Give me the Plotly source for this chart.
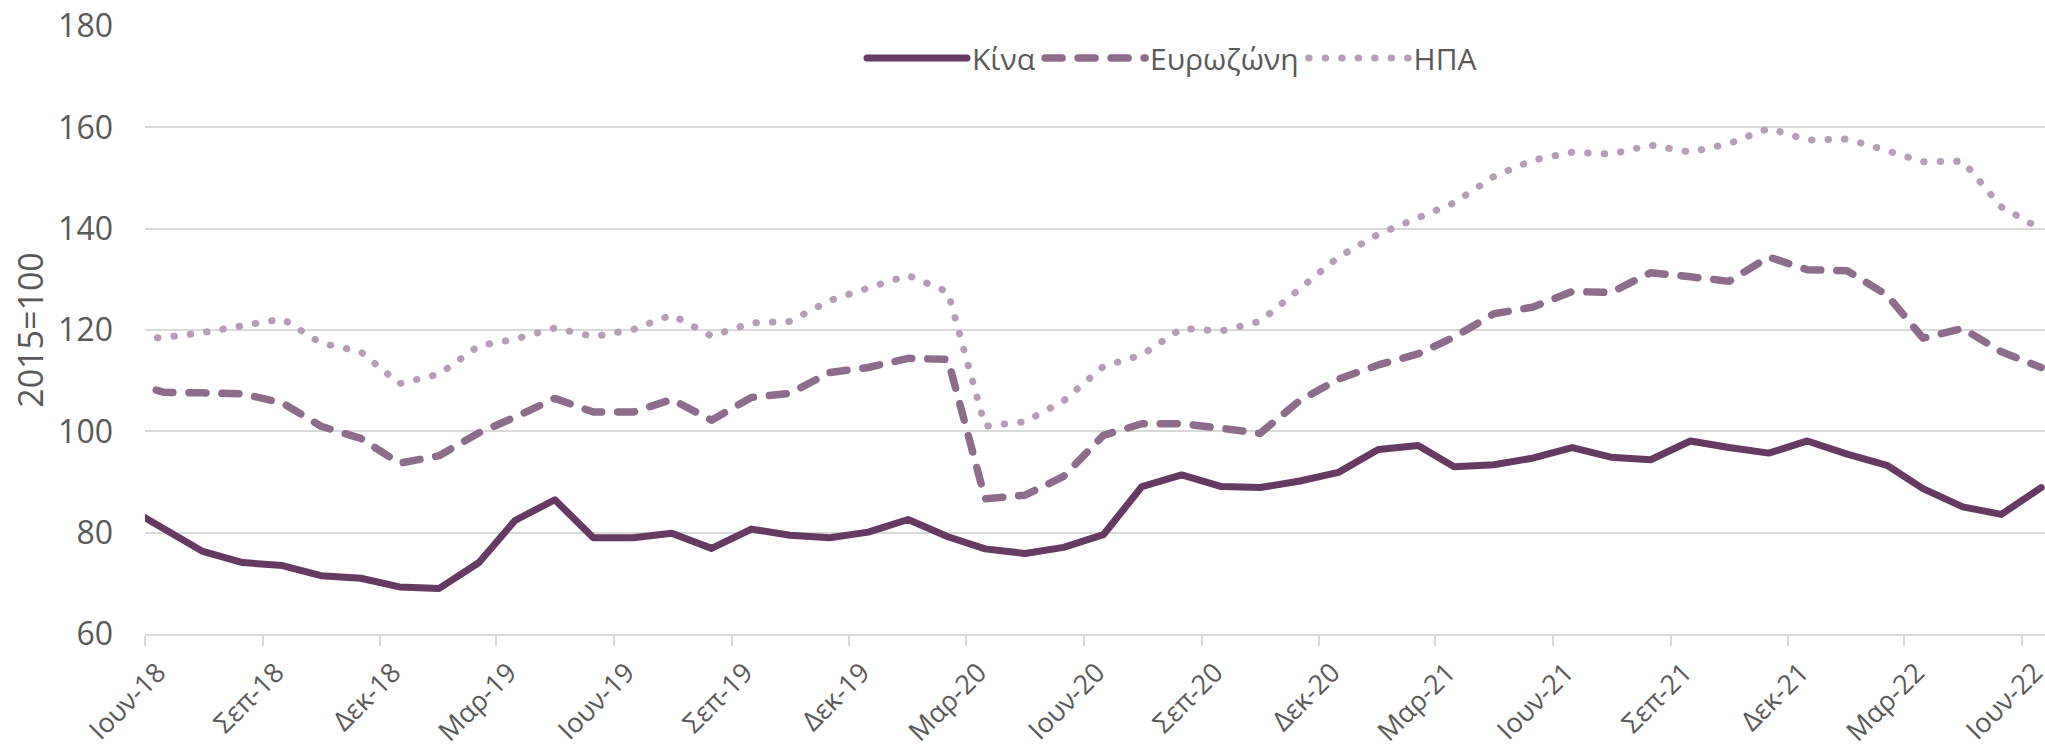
import pandas as pd
import plotly.graph_objects as go

# Monthly observations (mid-month), May-2018 .. Jun-2022 (May-2018 lies left of the visible range)
months = pd.date_range("2018-05-01", "2022-06-01", freq="MS") + pd.Timedelta(days=15)

china = [85.3, 80.9, 76.3, 74.1, 73.5, 71.5, 71.0, 69.3, 69.0, 74.1, 82.4, 86.5,
         79.0, 79.0, 79.9, 76.9, 80.7, 79.5, 79.0, 80.1, 82.6, 79.2, 76.8, 75.9,
         77.1, 79.6, 89.1, 91.4, 89.1, 88.9, 90.2, 91.9, 96.4, 97.2, 93.0, 93.4,
         94.7, 96.8, 94.9, 94.4, 98.1, 96.8, 95.7, 98.1, 95.5, 93.3, 88.7, 85.1,
         83.6, 88.9]
eurozone = [109.9, 107.7, 107.6, 107.4, 105.6, 101.0, 98.6, 93.7, 95.2, 99.7, 102.8, 106.5,
            103.8, 103.8, 106.3, 102.2, 106.7, 107.5, 111.6, 112.6, 114.4, 114.2, 86.7, 87.4,
            91.1, 99.2, 101.5, 101.5, 100.6, 99.6, 106.1, 110.3, 113.1, 115.3, 118.6, 123.2,
            124.5, 127.6, 127.4, 131.3, 130.5, 129.6, 134.4, 131.9, 131.7, 126.9, 118.4, 120.3,
            115.7, 112.6]
usa = [118.3, 118.5, 119.5, 120.9, 122.2, 117.4, 115.7, 109.4, 111.3, 116.9, 118.2, 120.4,
       118.7, 120.1, 123.0, 118.8, 121.4, 121.7, 125.8, 128.3, 130.8, 127.5, 101.0, 101.9,
       106.0, 112.8, 115.1, 120.3, 119.8, 121.7, 128.2, 134.4, 138.9, 142.3, 145.1, 150.3,
       153.5, 155.1, 154.7, 156.5, 155.1, 156.8, 159.8, 157.5, 157.7, 155.4, 153.2, 153.3,
       144.3, 139.9]

tick_labels = ["Ιουν-18", "Σεπ-18", "Δεκ-18", "Μαρ-19", "Ιουν-19", "Σεπ-19", "Δεκ-19",
               "Μαρ-20", "Ιουν-20", "Σεπ-20", "Δεκ-20", "Μαρ-21", "Ιουν-21", "Σεπ-21",
               "Δεκ-21", "Μαρ-22", "Ιουν-22"]
tick_dates = pd.date_range("2018-06-01", "2022-06-01", freq="3MS") + pd.Timedelta(days=10)

series_names = ["Κίνα", "Ευρωζώνη", "ΗΠΑ"]
colors = ["#663A62", "#8E6C8C", "#B69EB6"]
FONT = "Open Sans"
GREY = "#595959"
GRID = "#D9D9D9"

fig = go.Figure()
fig.add_trace(go.Scatter(x=months, y=china, name=series_names[0], mode="lines",
                         line=dict(color=colors[0], width=7)))
fig.add_trace(go.Scatter(x=months, y=eurozone, name=series_names[1], mode="lines",
                         line=dict(color=colors[1], width=7.5, dash="25px,8px")))
fig.add_trace(go.Scatter(x=months, y=usa, name=series_names[2], mode="lines",
                         line=dict(color=colors[2], width=7, dash="7px,9.5px")))

fig.update_layout(
    width=2045, height=752,
    margin=dict(l=145, r=0, t=26, b=118),
    paper_bgcolor="white", plot_bgcolor="white",
    font=dict(family=FONT, size=28, color=GREY),
    showlegend=True,
    legend=dict(orientation="h", x=(862 - 145) / 1900, xanchor="left",
                y=1 - (58 - 26) / 608, yanchor="middle",
                font=dict(family=FONT, size=30, color=GREY),
                itemwidth=100, bgcolor="rgba(0,0,0,0)", tracegroupgap=0),
)
fig.update_xaxes(
    type="date", range=["2018-06-01", "2022-06-19"],
    tickmode="array", tickvals=tick_dates, ticktext=tick_labels,
    tickangle=-45, ticks="", ticklabelstandoff=10, ticklabeloverflow="allow",
    tickfont=dict(family=FONT, size=27, color=GREY),
    showgrid=False, showline=True, linecolor=GRID, linewidth=2,
    minor=dict(tickmode="linear", tick0="2018-06-01", dtick="M3", ticks="outside",
               ticklen=10, tickwidth=2, tickcolor=GRID, showgrid=False),
    zeroline=False, automargin=False,
)
fig.update_yaxes(
    range=[60, 180], dtick=20, tick0=60,
    showgrid=True, gridcolor=GRID, gridwidth=2, zeroline=False, showline=False,
    ticks="", ticklabelstandoff=31,
    tickfont=dict(family=FONT, size=32, color=GREY),
    title=dict(text="2015=100", font=dict(family=FONT, size=34, color=GREY), standoff=4),
    automargin=False,
)

post = """
document.documentElement.style.margin = '0';
document.body.style.margin = '0';
document.body.style.overflow = 'hidden';
var gd = document.getElementById('{plot_id}');
gd.querySelectorAll('path.js-line').forEach(function(p){
  var d = (p.style.strokeDasharray || '').replace(/\\s/g, '');
  p.style.strokeLinecap = 'round';
  p.style.strokeLinejoin = 'round';
  if (d === '25px,8px') { p.style.strokeDasharray = '17px,16px'; }
  else if (d === '7px,9.5px') { p.style.strokeDasharray = '0.5px,16px'; }
});
"""
fig.write_html("out.html", post_script=post, config={"displayModeBar": False})
